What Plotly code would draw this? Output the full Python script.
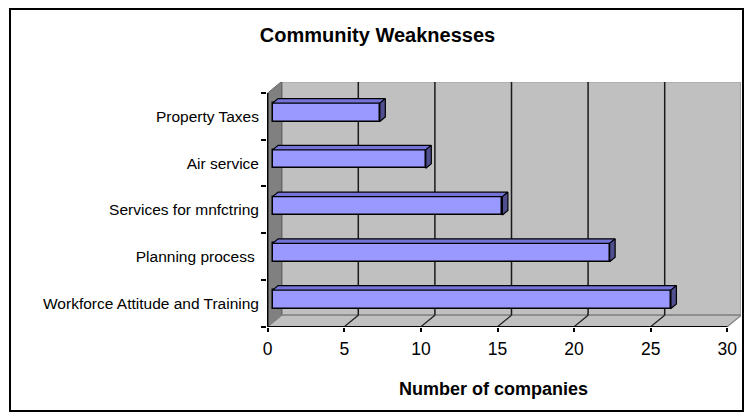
import plotly.graph_objects as go

# ---------------- data ----------------
categories = ["Workforce Attitude and Training", "Planning process ",
              "Services for mnfctring", "Air service", "Property Taxes"]
values = [26, 22, 15, 10, 7]
x_ticks = [0, 5, 10, 15, 20, 25, 30]
title_text = "Community Weaknesses"
x_title = "Number of companies"

# ---------------- geometry (pixels) ----------------
W, H = 749, 417
ML, MR, MT, MB = 267, 8, 82, 90
PW, PH = W - ML - MR, H - MT - MB
FRONT0, FRONT30 = 267.7, 727.3            # front floor edge: x=0 and x=30
S = (FRONT30 - FRONT0) / 30.0              # px per unit
CAT_BOTTOM, CAT_TOP = 326.7, 93.0          # front-plane category bounds
CPX = (CAT_BOTTOM - CAT_TOP) / len(categories)
DEPTH_X, DEPTH_Y = 14.0, 11.5              # wall depth in px
dxu, dyu = DEPTH_X / S, DEPTH_Y / CPX      # wall depth in axis units
BAR_DEPTH_FRAC = 0.35
bar_base = BAR_DEPTH_FRAC * dxu
bar_shift = BAR_DEPTH_FRAC * dyu
bar_w = 18.4 / CPX
bdx, bdy = 5.5 / S, 4.5 / CPX              # bar's own 3D depth

x_range = [(ML - FRONT0) / S, (ML + PW - FRONT0) / S]
y_range = [-0.5 - (MT + PH - CAT_BOTTOM) / CPX, len(categories) - 0.5 + (CAT_TOP - MT) / CPX]

def px_x(p):
    return (p - ML) / PW

def px_y(p):
    return (MT + PH - p) / PH

FONT = "Liberation Sans, Arial, sans-serif"
n = len(categories)
ypos = list(range(n))
ylo, yhi = -0.5, n - 0.5
xmax = x_ticks[-1]

fig = go.Figure()

# front faces of bars
fig.add_trace(go.Bar(
    y=[i + bar_shift for i in ypos], x=values, base=bar_base, orientation="h",
    width=bar_w, marker=dict(color="#9999ff", line=dict(color="black", width=1.5)),
    hoverinfo="x", showlegend=False))

# top and side faces of bars, computed from the values
top_x, top_y, side_x, side_y = [], [], [], []
for i, v in zip(ypos, values):
    yc = i + bar_shift
    yt, yb = yc + bar_w / 2, yc - bar_w / 2
    x0, x1 = bar_base, bar_base + v
    top_x += [x0, x1, x1 + bdx, x0 + bdx, x0, None]
    top_y += [yt, yt, yt + bdy, yt + bdy, yt, None]
    side_x += [x1, x1 + bdx, x1 + bdx, x1, x1, None]
    side_y += [yt, yt + bdy, yb + bdy, yb, yt, None]
fig.add_trace(go.Scatter(x=top_x, y=top_y, mode="lines", fill="toself",
                         fillcolor="#7373d9", line=dict(color="black", width=1.2),
                         hoverinfo="skip", showlegend=False))
fig.add_trace(go.Scatter(x=side_x, y=side_y, mode="lines", fill="toself",
                         fillcolor="#4f4f8f", line=dict(color="black", width=1.2),
                         hoverinfo="skip", showlegend=False))

shapes = []
# back wall
shapes.append(dict(type="rect", xref="x", yref="y", layer="below",
                   x0=dxu, x1=xmax + dxu, y0=ylo + dyu, y1=yhi + dyu,
                   fillcolor="#c0c0c0", line=dict(color="#808080", width=1.5)))
# left wall
shapes.append(dict(type="path", xref="x", yref="y", layer="below",
                   path=f"M 0 {ylo} L 0 {yhi} L {dxu} {yhi + dyu} L {dxu} {ylo + dyu} Z",
                   fillcolor="#808080", line=dict(color="#606060", width=1)))
# floor
shapes.append(dict(type="path", xref="x", yref="y", layer="below",
                   path=f"M 0 {ylo} L {xmax} {ylo} L {xmax + dxu} {ylo + dyu} L {dxu} {ylo + dyu} Z",
                   fillcolor="#c0c0c0", line=dict(color="#808080", width=1.2)))
# back-wall gridlines and floor diagonals
for t in x_ticks[1:-1]:
    shapes.append(dict(type="line", xref="x", yref="y", layer="below",
                       x0=t + dxu, x1=t + dxu, y0=ylo + dyu, y1=yhi + dyu,
                       line=dict(color="#1a1a1a", width=1.5)))
    shapes.append(dict(type="line", xref="x", yref="y", layer="below",
                       x0=t, x1=t + dxu, y0=ylo, y1=ylo + dyu,
                       line=dict(color="#1a1a1a", width=1.2)))
# front axis lines
shapes.append(dict(type="line", xref="x", yref="y", layer="above",
                   x0=0, x1=xmax, y0=ylo, y1=ylo, line=dict(color="black", width=1.5)))
shapes.append(dict(type="line", xref="x", yref="y", layer="above",
                   x0=0, x1=0, y0=ylo, y1=yhi, line=dict(color="black", width=1.5)))
# outer chart border
shapes.append(dict(type="rect", xref="paper", yref="paper", layer="above",
                   x0=px_x(10), x1=px_x(743), y0=px_y(411), y1=px_y(9),
                   line=dict(color="black", width=2), fillcolor="rgba(0,0,0,0)"))

fig.update_layout(
    width=W, height=H,
    margin=dict(l=ML, r=MR, t=MT, b=MB, pad=0),
    paper_bgcolor="white", plot_bgcolor="white",
    shapes=shapes,
    title=dict(text=f"<b>{title_text}</b>", xref="container", yref="container",
               x=377.5 / W, y=1 - 35 / H, xanchor="center", yanchor="middle",
               font=dict(family=FONT, size=20, color="black")),
    annotations=[dict(text=f"<b>{x_title}</b>", xref="paper", yref="paper",
                      x=px_x(493), y=px_y(389), xanchor="center", yanchor="middle",
                      showarrow=False, font=dict(family=FONT, size=18, color="black"))],
    xaxis=dict(range=x_range, tickvals=x_ticks, ticks="outside", ticklen=4,
               tickcolor="black", tickwidth=1.5, showgrid=False, zeroline=False,
               showline=False, tickfont=dict(family=FONT, size=17.5, color="black"),
               ticklabelstandoff=2, fixedrange=True),
    yaxis=dict(range=y_range, tickvals=ypos, ticktext=categories, ticks="",
               showgrid=False, zeroline=False, showline=False,
               tickfont=dict(family=FONT, size=15.5, color="black"),
               ticklabelstandoff=7,
               minor=dict(tickvals=[k - 0.5 for k in range(n + 1)], ticks="outside",
                          ticklen=5, tickcolor="black", tickwidth=1.5, showgrid=False),
               fixedrange=True),
    bargap=0,
)

fig.write_html("out.html")
